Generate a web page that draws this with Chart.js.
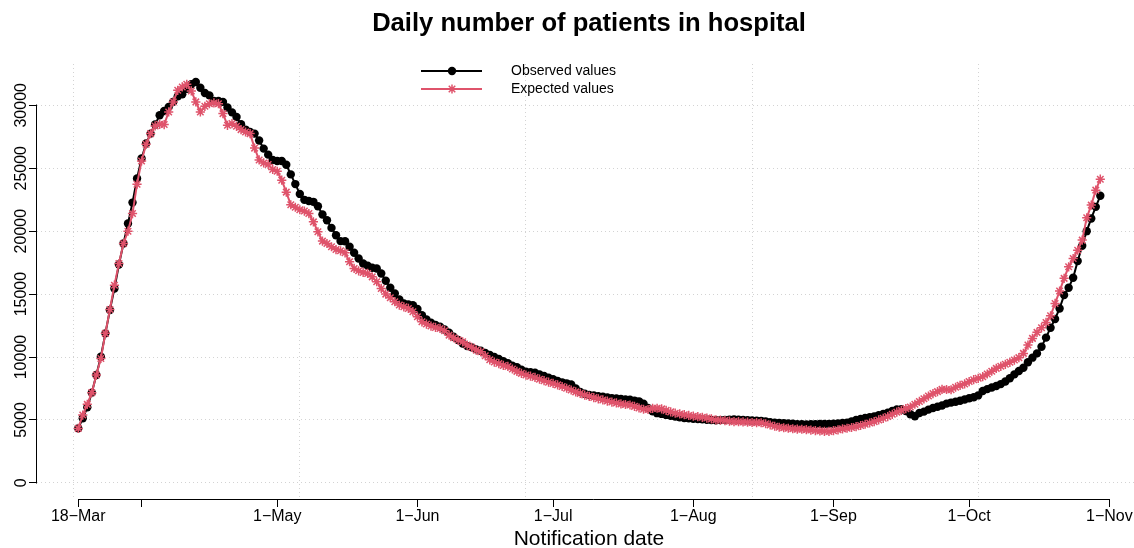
<!DOCTYPE html>
<html>
<head>
<meta charset="utf-8">
<title>Daily number of patients in hospital</title>
<script src="https://cdn.jsdelivr.net/npm/chart.js@4/dist/chart.umd.min.js"></script>
<style>
  html, body { margin: 0; padding: 0; background: #fff; overflow: hidden; }
  #wrap { width: 1134px; height: 548px; overflow: hidden; }
</style>
</head>
<body>
<div id="wrap"><canvas id="hospChart" width="1141" height="548"></canvas></div>
<script>
// daily values, day 0 = 18 March
const observed = [
  4330, 5130, 6000, 7170, 8570, 10020, 11880, 13730, 15450, 17350,
  19020, 20610, 22270, 24180, 25770, 26960, 27750, 28470, 29210, 29550,
  29870, 30270, 30710, 30870, 31320, 31670, 31850, 31400, 30980, 30790,
  30340, 30340, 30270, 29820, 29440, 29070, 28490, 28070, 27880, 27750,
  27200, 26560, 26080, 25660, 25580, 25570, 25280, 24510, 23740, 22960,
  22490, 22400, 22330, 21980, 21320, 20870, 20260, 19680, 19210, 19200,
  18760, 18280, 17830, 17430, 17250, 17090, 17030, 16640, 16060, 15500,
  15050, 14580, 14260, 14180, 14120, 13810, 13330, 12990, 12720, 12540,
  12410, 12190, 11930, 11610, 11350, 11080, 10870, 10770, 10610, 10500,
  10330, 10160, 10000, 9850, 9660, 9500, 9310, 9190, 9000, 8840,
  8800, 8760, 8620, 8490, 8350, 8230, 8100, 7990, 7910, 7820,
  7500, 7230, 7080, 6980, 6940, 6890, 6850, 6780, 6720, 6700,
  6670, 6630, 6600, 6540, 6480, 6300, 5950, 5680, 5540, 5480,
  5400, 5330, 5270, 5210, 5160, 5130, 5100, 5080, 5050, 5020,
  5000, 4980, 4990, 5010, 5030, 5050, 5020, 5000, 4980, 4960,
  4950, 4930, 4880, 4820, 4780, 4760, 4740, 4730, 4700, 4670,
  4660, 4650, 4660, 4670, 4680, 4680, 4690, 4700, 4730, 4760,
  4790, 4880, 5000, 5080, 5150, 5210, 5270, 5370, 5480, 5580,
  5720, 5840, 5850, 5700, 5450, 5300, 5550, 5660, 5820, 5950,
  6050, 6150, 6300, 6380, 6450, 6530, 6620, 6720, 6800, 6950,
  7300, 7450, 7580, 7700, 7850, 8050, 8310, 8620, 8890, 9150,
  9580, 9950, 10290, 10820, 11540, 12330, 13020, 13860, 14920, 15500,
  16300, 17620, 18840, 20000, 21010, 21930, 22810
];
const expected = [
  4330, 5390, 6240, 7170, 8570, 9890, 11880, 13780, 15710, 17430,
  19020, 20000, 21400, 23730, 25580, 26900, 27750, 28360, 28490, 28470,
  29470, 30270, 31190, 31460, 31670, 31140, 30270, 29470, 29920, 30130,
  30190, 30130, 29340, 28410, 28550, 28330, 28070, 27880, 27750, 26600,
  25660, 25420, 25300, 24900, 24760, 24050, 23100, 22100, 21900, 21700,
  21600, 21400, 20740, 19950, 19210, 19020, 18760, 18540, 18440, 18280,
  17570, 17040, 16850, 16720, 16640, 16370, 15980, 15450, 15000, 14710,
  14390, 14130, 13990, 13860, 13600, 13200, 12800, 12620, 12460, 12350,
  12270, 12090, 11740, 11530, 11350, 11210, 10950, 10770, 10550, 10420,
  10100, 9780, 9600, 9480, 9330, 9250, 9050, 8860, 8700, 8570,
  8480, 8380, 8240, 8120, 8000, 7900, 7790, 7660, 7520, 7380,
  7230, 7110, 6980, 6880, 6780, 6680, 6590, 6500, 6420, 6350,
  6280, 6230, 6190, 6080, 5950, 5850, 5830, 5920, 5930, 5880,
  5760, 5640, 5540, 5480, 5420, 5360, 5300, 5260, 5210, 5150,
  5080, 5000, 4980, 4950, 4900, 4870, 4860, 4840, 4820, 4800,
  4790, 4780, 4700, 4600, 4500, 4420, 4380, 4340, 4300, 4270,
  4260, 4230, 4200, 4160, 4130, 4100, 4090, 4150, 4220, 4290,
  4340, 4400, 4470, 4560, 4660, 4760, 4870, 5000, 5130, 5270,
  5450, 5620, 5760, 5900, 6030, 6250, 6470, 6680, 6900, 7100,
  7250, 7430, 7420, 7400, 7600, 7750, 7860, 8050, 8200, 8310,
  8440, 8650, 8870, 9100, 9260, 9420, 9580, 9760, 9950, 10290,
  10950, 11480, 11960, 12330, 12750, 13280, 14260, 15240, 16250, 17170,
  17830, 18490, 19290, 21060, 22070, 23260, 24130
];

const xTickDays = [0, 14, 44, 75, 105, 136, 167, 197, 228];
const xTickLabels = ["18\u2212Mar", "", "1\u2212May", "1\u2212Jun", "1\u2212Jul", "1\u2212Aug", "1\u2212Sep", "1\u2212Oct", "1\u2212Nov"];
const xGridDays = [-1, 49, 99, 149, 199];
const yTicks = [0, 5000, 10000, 15000, 20000, 25000, 30000];
const yTickLabels = ["0", "5000", "10000", "15000", "20000", "25000", "30000"];

const GRID = "#d3d3d3";
const PINK = "#DF536B";

Chart.defaults.font.family = "'Liberation Sans', Arial, Helvetica, sans-serif";
Chart.defaults.color = "#000";

function toPoints(values) {
    return values.map((v, i) => ({ x: i, y: v }));
}

// R-like axis lines (only between first and last tick), rotated y labels and the legend
const rStyle = {
    id: "rStyle",
    afterDraw(chart) {
        const { ctx, chartArea } = chart;
        const x = chart.scales.x;
        const y = chart.scales.y;
        ctx.save();
        ctx.strokeStyle = "#000";
        ctx.lineWidth = 1;
        ctx.setLineDash([]);

        const by = Math.round(chartArea.bottom) + 0.5;
        ctx.beginPath();
        ctx.moveTo(x.getPixelForValue(xTickDays[0]), by);
        ctx.lineTo(x.getPixelForValue(xTickDays[xTickDays.length - 1]), by);
        const lx = Math.round(chartArea.left) - 0.5;
        ctx.moveTo(lx, Math.round(y.getPixelForValue(yTicks[0])) + 0.5);
        ctx.lineTo(lx, Math.round(y.getPixelForValue(yTicks[yTicks.length - 1])) - 0.5);
        ctx.stroke();

        ctx.fillStyle = "#000";
        ctx.font = "16px 'Liberation Sans', Arial, sans-serif";
        ctx.textAlign = "center";
        ctx.textBaseline = "alphabetic";
        yTicks.forEach((v, i) => {
            ctx.save();
            ctx.translate(26, y.getPixelForValue(v));
            ctx.rotate(-Math.PI / 2);
            ctx.fillText(yTickLabels[i], 0, 0);
            ctx.restore();
        });

        // legend
        const items = chart.data.datasets;
        const rows = [71, 89];
        ctx.font = "14px 'Liberation Sans', Arial, sans-serif";
        ctx.textAlign = "left";
        ctx.textBaseline = "middle";
        items.forEach((ds, i) => {
            const ly = rows[i];
            ctx.strokeStyle = ds.borderColor;
            ctx.lineWidth = 2;
            ctx.beginPath();
            ctx.moveTo(421, ly);
            ctx.lineTo(482, ly);
            ctx.stroke();
            if (ds.pointStyle === "star") {
                const r = ds.pointRadius;
                const d = r * Math.SQRT1_2;
                ctx.lineWidth = ds.pointBorderWidth;
                ctx.beginPath();
                ctx.moveTo(452 - r, ly); ctx.lineTo(452 + r, ly);
                ctx.moveTo(452, ly - r); ctx.lineTo(452, ly + r);
                ctx.moveTo(452 - d, ly - d); ctx.lineTo(452 + d, ly + d);
                ctx.moveTo(452 - d, ly + d); ctx.lineTo(452 + d, ly - d);
                ctx.stroke();
            } else {
                ctx.fillStyle = ds.borderColor;
                ctx.beginPath();
                ctx.arc(452, ly, ds.pointRadius, 0, Math.PI * 2);
                ctx.fill();
            }
            ctx.fillStyle = "#000";
            ctx.fillText(ds.label, 511, ly);
        });
        ctx.restore();
    }
};

new Chart(document.getElementById("hospChart"), {
    type: "line",
    data: {
        datasets: [
            {
                label: "Observed values",
                data: toPoints(observed),
                borderColor: "#000",
                backgroundColor: "#000",
                borderWidth: 2,
                pointStyle: "circle",
                pointRadius: 4.2,
                pointBackgroundColor: "#000",
                pointBorderWidth: 0,
                tension: 0,
                order: 2
            },
            {
                label: "Expected values",
                data: toPoints(expected),
                borderColor: PINK,
                backgroundColor: PINK,
                borderWidth: 2,
                pointStyle: "star",
                pointRadius: 4.6,
                pointBorderColor: PINK,
                pointBorderWidth: 1.5,
                tension: 0,
                order: 1
            }
        ]
    },
    options: {
        responsive: false,
        devicePixelRatio: 1,
        animation: false,
        events: [],
        layout: { padding: 0, autoPadding: false },
        plugins: {
            legend: { display: false },
            tooltip: { enabled: false },
            title: {
                display: true,
                text: "Daily number of patients in hospital",
                fullSize: false,
                color: "#000",
                font: { size: 25.6, weight: "bold", lineHeight: 1.2 },
                padding: { top: 9, bottom: 24.3 }
            }
        },
        scales: {
            x: {
                type: "linear",
                position: "bottom",
                bounds: "data",
                min: -9.12,
                max: 235.0,
                afterBuildTicks: s => { s.ticks = xTickDays.map(v => ({ value: v })); },
                afterFit: s => { s.height = 49; },
                ticks: {
                    autoSkip: false,
                    minRotation: 0,
                    maxRotation: 0,
                    padding: 0,
                    color: "#000",
                    font: { size: 16 },
                    callback: v => xTickLabels[xTickDays.indexOf(v)]
                },
                grid: {
                    drawOnChartArea: false,
                    drawTicks: true,
                    tickLength: 8,
                    tickColor: "#000",
                    lineWidth: 1,
                    tickBorderDash: []
                },
                border: { display: false },
                title: {
                    display: true,
                    text: "Notification date",
                    color: "#000",
                    font: { size: 21, lineHeight: 0.85 },
                    padding: { top: 0, bottom: 0 }
                }
            },
            xg: {
                type: "linear",
                position: "bottom",
                bounds: "data",
                min: -9.12,
                max: 235.0,
                afterBuildTicks: s => { s.ticks = xGridDays.map(v => ({ value: v })); },
                afterFit: s => { s.height = 0; },
                ticks: { display: false },
                grid: { color: GRID, lineWidth: 1, drawTicks: false, drawOnChartArea: true },
                border: { display: false, dash: [1, 3] }
            },
            y: {
                type: "linear",
                position: "left",
                bounds: "data",
                min: -1280,
                max: 33280,
                afterBuildTicks: s => { s.ticks = yTicks.map(v => ({ value: v })); },
                afterFit: s => { s.width = 37; },
                ticks: { display: false },
                grid: {
                    color: GRID,
                    lineWidth: 1,
                    drawTicks: true,
                    tickLength: 8,
                    tickColor: "#000",
                    tickBorderDash: []
                },
                border: { display: false, dash: [1, 3] }
            }
        }
    },
    plugins: [rStyle]
});
</script>
</body>
</html>
